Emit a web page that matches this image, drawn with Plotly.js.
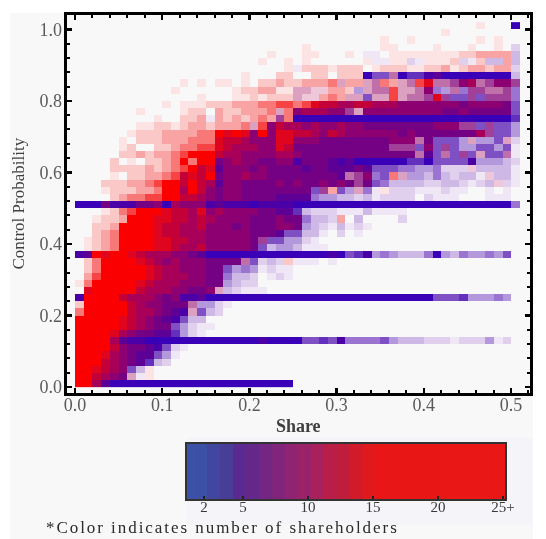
<!DOCTYPE html>
<html><head><meta charset="utf-8">
<script src="https://cdn.plot.ly/plotly-3.0.1.min.js"></script>
<style>html,body{margin:0;padding:0;background:#fff}#c{width:546px;height:539px;filter:blur(0.6px)}
.annotation-text{letter-spacing:1.95px}</style>
</head><body><div id="c"></div>
<script>
// Each character is one 0.01 x 0.02 cell, top row first (probability 1.00 down to 0.00), share 0.00 to 0.50.
const cellRows = [
".......... .......... .......... .......... ......a... Z",
".......... .......... .......... .......... ..a....... .",
".......... .......... .......... .....a..a. ......a.a. .",
".......... .......... ......a... .....aa... .a...a..a. g",
".......... .......... ..a...aa.. .a.ff.aaaa aaaabbcccc h",
".......... .......... .a..a.a... ...affaagf aaabgfbhhc h",
".......... .......... ....afbbba bbb.abbbaa bbcabccbcc g",
".......... .........a ...bb..bb. bbbZkkoZll YXZZZZZZZZ h",
".......... ..a.a.aa.a .bbcbbcccd nccnodcnoe SoopVUopVV p",
".......... .a......ab bccaannmmc cbinooenno Vjiojppoop j",
".......... ....a...aa babbbnmmcd cnnknnenoo pSpkkpkppp j",
".......... a.aaabbbcc cddeedeSTT UUTTUUUVVV VVVVWVVVVW k",
".......a.. ..abb.cbbc ccdndVUUUV VpnVVVVVVV VVWWVWWWWW k",
".........a ..bbcfcbcb cdcpdZZZZZ ZZZZZZZZZZ ZZZZZZZZZZ l",
".......aab babccbcccd neVTUUVUVV UVVWWWWWWW WVVVppkpkk i",
"......abbb ccccddRSRS VRVSSTTUVT UVVVVVVWVW WWWWWWUpkk i",
".....a.bbb cccdddSTTU VVVSSVVVWW WWWWWWVVVo Wkkkiniikn g",
".....ab..b bcddeeSTUU UVVSTWWWWW WWWWWWpppk Vkpkiikkik f",
".....bbcbc cdeRRRTUUV VVVUUVWWWW WWWWWWWWWo Xkokpknkko f",
"....b.a.bb cdRdRRWVUV VWWVVYWWWX YXZZZZZZll ZkkkkYiiih g",
"....bbbbcb cdeRTSXVVV WVWWWWXWWX XXWXkkkjji ijgggmhhhh f",
"....a.bbcc deTSTRWVVU VVWWWWWWWW XopVjkdnii hjhghhfmhh f",
"...bbbccde RRTRTUXVVW WWWVWVWWVW VWpWkjhhhh gghhgfghmg f",
"...abbbccd RRURTVWVVW WWWWWWWkpc kinjfagggf ffgff..f.f .",
"....bcddee RRTTUVWVVW WWWXXXXjii hhghfgggg. gfff...fff .",
"ZZZWYYYWWV ZUVVVYXYYY ZYYYYZZZZZ ZZZZZZZZZZ ZZZZZZZZZZ j",
"...abdeRRR STTUSVUVVV VWWXXlhggg fffhffff.. .......... .",
"..abbcRRRS STTUTUVVVV WWWVWWjhhg c.h....g.. .......... .",
"..bbcRRRRS TTUUTVVVWV WWWVVWihgf hfgf...... .......... .",
"..bcdRRRRS TTUUUVVVVV WWWXkkhhf. g.f....... .......... .",
".abcdRRRRS STTUUVVVVV Wpkkiigf.. .......... .......... .",
".abcdRRRRS STUUTVVVVV Wkhiihfff. .......... .......... .",
"YXRSRRSTUU UVVWXZZZZZ ZZZZZZZZZY ZklYijihhh jZihjiijik .",
".bdRRRRSTU VUVVVWWWWo kghgbfff.f .......... .......... .",
".bdRRRRRST UUVVVWWkij ifgff..... .......... .......... .",
".ceRRRRRST UUUVVWWjhh g.fgf..... .......... .......... .",
"adRRRRRSTU UUVVVWWihg g......... .......... .......... .",
".SRRRRRTUU UVVWWVnhgf ff........ .......... .......... .",
"YRRRRTUUUV WVYYXZZZZZ ZZZZZZZZZZ ZZZZZZZZZZ Zkkkliiiji .",
"bRRRRRTUVV WWWoiigf.. .......... .......... .......... .",
"dRRRRRTUUV WXYnkhg... .......... .......... .......... .",
"RRRRRSTUVW XYkhh..... .......... .......... .......... .",
"RRRRRSTUVW Wkigff.... .......... .......... .......... .",
"RRRRSUVWWX Xligf..... .......... .......... .......... .",
"RRRRUXYYZZ ZZZZZZZZZZ ZYZZZZkklk Yjjjjkihhh gggfgggifg .",
"RRRRTVWWXY kgf....... .......... .......... .......... .",
"RRRSUVWXXk if........ .......... .......... .......... .",
"RRRTUVWXlh g......... .......... .......... .......... .",
"RRSTUVkha. .......... .......... .......... .......... .",
"RRTUVWnfa. .......... .......... .......... .......... .",
"RRUXZZZZZZ ZZZZZZZZZZ ZZZZZ..... .......... .......... ."
];
const cellKeys   = "abcdeRSTUVWXYZfghijklmnop";
const cellColors = ["#fde4e4","#fbc8c8","#f9a4a4","#f87878","#f64444","#fa0000","#e0051e","#c40038","#a80058",
  "#8c0072","#740084","#5c0096","#4a00a6","#3a00b8","#efe6f6","#e0d0ee","#cdb8e6","#b498dc","#9a74d0","#7e50c4",
  "#6230bc","#eec8d8","#dca0c0","#c070a8","#a04098"];
const barLevels = [1,2,3,4,5,6,7,8,9,10,11,12,13,14,15,16,17,18,19,20,21,22,23,24,25];
const barColors = ["#3a52a8","#3c50a6","#4146a0","#483e98","#5a2a90","#632889","#742684","#81257c","#902372","#9a2268",
  "#a8215c","#b81e48","#c01c3c","#d21a28","#e01a1c","#e81616","#e81616","#e91616","#e91616","#e91616",
  "#ea1717","#ea1717","#ea1717","#ea1717","#ea1717"];
const barTickVals = [2,5,10,15,20,25];
const barTickText = ["2","5","10","15","20","25+"];
const shareTicks = [0,0.1,0.2,0.3,0.4,0.5];
const probTicks = [0,0.2,0.4,0.6,0.8,1.0];

const W=546,H=539;
const px=v=>v/W, py=v=>1-v/H;
const stepped=(cols)=>{const n=cols.length,o=[];cols.forEach((c,i)=>{o.push([i/n,c]);o.push([(i+1)/n,c]);});return o;};
const rows=cellRows.map(r=>r.replace(/ /g,''));
const nC=rows[0].length, nR=rows.length;
const z=rows.slice().reverse().map(r=>r.split('').map(ch=>{const k=cellKeys.indexOf(ch);return k<0?null:k;}));
const xEdges=Array.from({length:nC+1},(_,i)=>i*0.01);
const yEdges=Array.from({length:nR+1},(_,i)=>i*0.02);
const barEdges=[0.2].concat(barLevels.map(v=>v+0.2));
const serif='"Liberation Serif", serif';

const traces=[
 {type:'heatmap',x:xEdges,y:yEdges,z:z,zmin:-0.5,zmax:cellKeys.length-0.5,colorscale:stepped(cellColors),showscale:false,hoverinfo:'skip'},
 {type:'heatmap',xaxis:'x2',yaxis:'y2',x:barEdges,y:[0,1],z:[barLevels],zmin:0.5,zmax:25.5,colorscale:stepped(barColors),showscale:false,hoverinfo:'skip'}
];
const tickFont={family:serif,size:18,color:'#5a5a5a'};
const layout={
 width:W,height:H,margin:{l:0,r:0,t:0,b:0,pad:0},paper_bgcolor:'#ffffff',plot_bgcolor:'#f8f8f8',showlegend:false,
 shapes:[
  {type:'rect',xref:'paper',yref:'paper',x0:px(10),x1:px(533),y0:py(539),y1:py(13),fillcolor:'#f8f8f8',line:{width:0},layer:'below'},
  {type:'rect',xref:'paper',yref:'paper',x0:px(187),x1:px(533),y0:py(525),y1:py(438),fillcolor:'#f4f4f9',line:{width:0},layer:'below'}
 ],
 xaxis:{domain:[px(66.5),px(530)],range:[-0.00975,0.5218],tickvals:shareTicks,ticktext:['0.0','0.1','0.2','0.3','0.4','0.5'],
   ticks:'inside',ticklen:5,tickwidth:2.5,tickcolor:'#000',showline:true,linecolor:'#000',linewidth:3,mirror:'allticks',showgrid:false,zeroline:false,
   minor:{dtick:0.02,tick0:0,ticks:'inside',ticklen:3,tickwidth:2,tickcolor:'#000',showgrid:false},
   tickfont:tickFont,ticklabelstandoff:-6,
   title:{text:'<b>Share</b>',font:{family:serif,size:18,color:'#404040'},standoff:6}},
 yaxis:{domain:[py(392.5),py(15)],range:[-0.0154,1.04],tickvals:probTicks,ticktext:['0.0','0.2','0.4','0.6','0.8','1.0'],
   ticks:'inside',ticklen:5,tickwidth:2.5,tickcolor:'#000',showline:true,linecolor:'#000',linewidth:3,mirror:'allticks',showgrid:false,zeroline:false,
   minor:{dtick:0.04,tick0:0,ticks:'inside',ticklen:3,tickwidth:2,tickcolor:'#000',showgrid:false},
   tickfont:tickFont,ticklabelstandoff:-2,
   title:{text:'Control Probability',font:{family:serif,size:17,color:'#404040'},standoff:11}},
 xaxis2:{domain:[px(187),px(505)],anchor:'y2',range:[0.7,25.15],tickvals:barTickVals,ticktext:barTickText,ticks:'inside',ticklen:3,tickwidth:1.5,tickcolor:'#222',
   showline:true,linecolor:'#333',linewidth:2,mirror:true,showgrid:false,zeroline:false,
   ticklabelstandoff:-7,tickfont:{family:serif,size:15,color:'#3a3a3a'}},
 yaxis2:{domain:[py(499),py(444)],anchor:'x2',range:[0,1],showticklabels:false,ticks:'',showline:true,linecolor:'#333',linewidth:2,mirror:true,showgrid:false,zeroline:false},
 annotations:[{xref:'paper',yref:'paper',x:px(44),y:py(539),xanchor:'left',yanchor:'bottom',showarrow:false,
   text:'*Color indicates number of shareholders',font:{family:serif,size:17,color:'#2a2a2a'}}]
};
Plotly.newPlot('c',traces,layout,{staticPlot:true,displayModeBar:false});
</script></body></html>
